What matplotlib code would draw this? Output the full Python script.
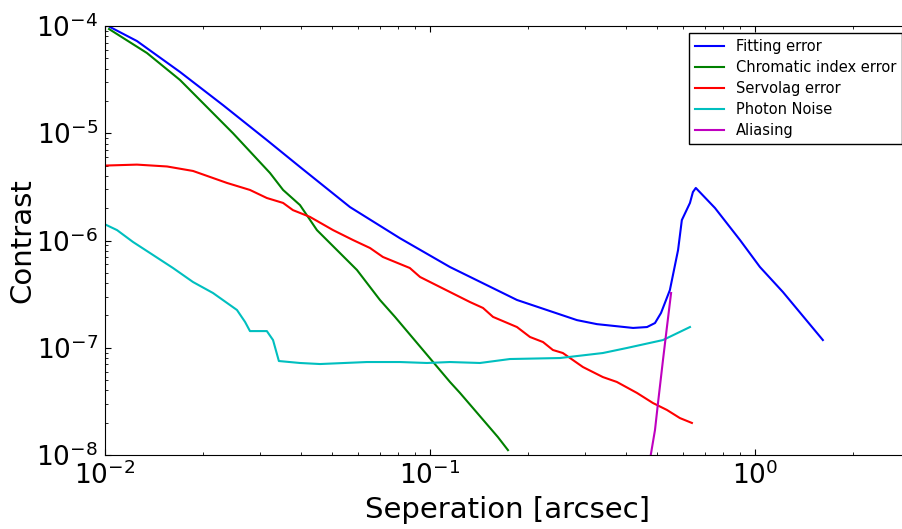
import matplotlib
matplotlib.use("Agg")
import matplotlib.pyplot as plt

# Fitting error
fit_x = [0.01036, 0.01254, 0.01701, 0.02307, 0.03148, 0.03981, 0.05673, 0.08084,
         0.1152, 0.1852, 0.2833, 0.3265, 0.4217, 0.4655, 0.4925, 0.514, 0.5473,
         0.5800, 0.5957, 0.631, 0.6443, 0.6577, 0.7533, 0.8995, 1.036, 1.219, 1.618]
fit_y = [9.79e-5, 7.24e-5, 3.73e-5, 1.83e-5, 8.64e-6, 4.85e-6, 2.05e-6, 1.05e-6,
         5.66e-7, 2.79e-7, 1.81e-7, 1.66e-7, 1.53e-7, 1.56e-7, 1.70e-7, 2.11e-7, 3.45e-7,
         8.15e-7, 1.55e-6, 2.24e-6, 2.83e-6, 3.09e-6, 2.01e-6, 1.01e-6, 5.66e-7, 3.31e-7, 1.18e-7]

# Chromatic index error
chrom_x = [0.01029, 0.01346, 0.01701, 0.02477, 0.03219, 0.03532, 0.03981, 0.04489,
           0.05961, 0.07015, 0.07804, 0.1152, 0.1237, 0.1618, 0.1738]
chrom_y = [9.37e-5, 5.6e-5, 3.14e-5, 1.0e-5, 4.26e-6, 2.96e-6, 2.14e-6, 1.25e-6,
           5.31e-7, 2.79e-7, 1.94e-7, 4.8e-8, 3.79e-8, 1.47e-8, 1.11e-8]

# Servolag error
servo_x = [0.01007, 0.01254, 0.01552, 0.01866, 0.02374, 0.02793, 0.03148, 0.03532,
           0.03787, 0.04272, 0.05033, 0.05797, 0.06539, 0.07165, 0.0867, 0.0932,
           0.1152, 0.1327, 0.1456, 0.1563, 0.1852, 0.2031, 0.2228, 0.2389, 0.2564,
           0.2956, 0.3404, 0.3758, 0.4335, 0.4856, 0.5360, 0.5875, 0.6397]
servo_y = [5.0e-6, 5.1e-6, 4.9e-6, 4.45e-6, 3.44e-6, 2.96e-6, 2.49e-6, 2.24e-6,
           1.92e-6, 1.66e-6, 1.25e-6, 1.01e-6, 8.51e-7, 7.02e-7, 5.54e-7, 4.57e-7,
           3.31e-7, 2.67e-7, 2.35e-7, 1.94e-7, 1.56e-7, 1.26e-7, 1.13e-7, 9.53e-8, 8.93e-8,
           6.61e-8, 5.33e-8, 4.8e-8, 3.79e-8, 3.05e-8, 2.63e-8, 2.21e-8, 1.99e-8]

# Photon noise
phot_x = [0.01007, 0.01089, 0.0122, 0.01405, 0.01619, 0.01866, 0.02149, 0.02547,
          0.02698, 0.02793, 0.03148, 0.03289, 0.03428, 0.03981, 0.04588, 0.06397,
          0.08084, 0.0979, 0.1152, 0.1425, 0.1762, 0.2512, 0.3404, 0.4036, 0.5212, 0.631]
phot_y = [1.40e-6, 1.25e-6, 9.68e-7, 7.33e-7, 5.54e-7, 4.1e-7, 3.24e-7, 2.25e-7,
          1.74e-7, 1.43e-7, 1.43e-7, 1.18e-7, 7.52e-8, 7.21e-8, 7.05e-8, 7.36e-8,
          7.36e-8, 7.21e-8, 7.36e-8, 7.21e-8, 7.85e-8, 8.02e-8, 8.93e-8, 9.95e-8, 1.18e-7, 1.56e-7]

# Aliasing
alias_x = [0.472, 0.4925, 0.5031, 0.5212, 0.536, 0.552]
alias_y = [8e-9, 1.71e-8, 3.05e-8, 7.69e-8, 1.56e-7, 3.24e-7]

fig = plt.figure(figsize=(9.03, 5.29), dpi=100)
ax = fig.add_axes([105 / 903, 74 / 529, 805 / 903, 429 / 529])

ax.plot(fit_x, fit_y, color="b", lw=1.5, label="Fitting error")
ax.plot(chrom_x, chrom_y, color="g", lw=1.5, label="Chromatic index error")
ax.plot(servo_x, servo_y, color="r", lw=1.5, label="Servolag error")
ax.plot(phot_x, phot_y, color="c", lw=1.5, label="Photon Noise")
ax.plot(alias_x, alias_y, color="m", lw=1.5, label="Aliasing")

ax.set_xscale("log")
ax.set_yscale("log")
ax.set_xlim(0.01, 3)
ax.set_ylim(1e-8, 1e-4)

ax.tick_params(which="both", direction="in", top=True, right=True)
ax.tick_params(which="major", length=4, labelsize=19, pad=5)
ax.tick_params(which="minor", length=2)

ax.set_xlabel("Seperation [arcsec]", fontsize=21, labelpad=4)
ax.set_ylabel("Contrast", fontsize=21, labelpad=0)

leg = ax.legend(loc="upper right", bbox_to_anchor=(902 / 903, 1 - 33 / 529),
                bbox_transform=fig.transFigure, borderaxespad=0, fontsize=10.5,
                labelspacing=0.42, fancybox=False, framealpha=1)
leg.get_frame().set_edgecolor("black")

fig.savefig("out.png", dpi=100)
